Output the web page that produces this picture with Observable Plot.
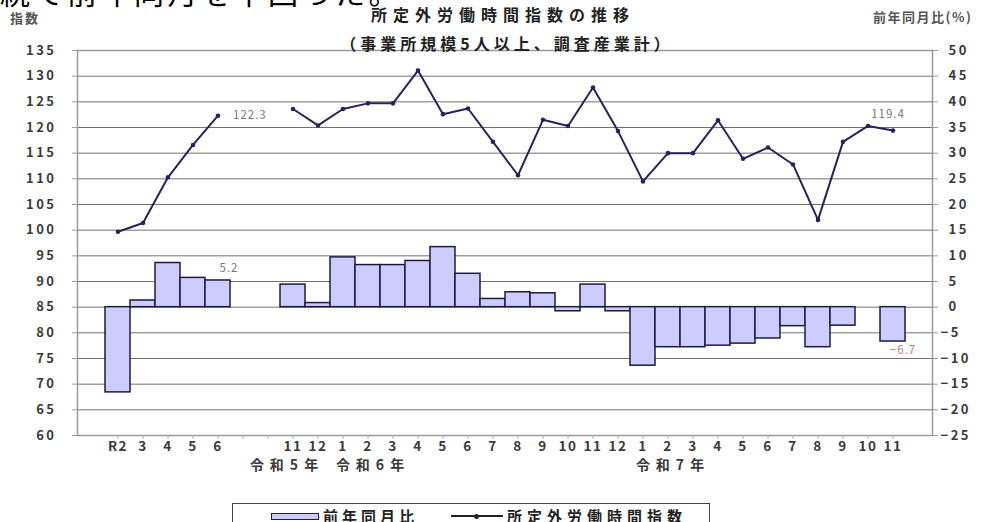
<!DOCTYPE html>
<html>
<head>
<meta charset="utf-8">
<script src="https://cdn.jsdelivr.net/npm/d3@7"></script>
<script src="https://cdn.jsdelivr.net/npm/@observablehq/plot@0.6"></script>
<style>
  body { margin: 0; background: #fff; font-family: 'Noto Sans CJK JP', sans-serif; }
  #wrap { position: relative; width: 997px; height: 522px; overflow: hidden; background: #fff; }
  #chart { position: absolute; left: 0; top: 0; }
  #chart svg { background: transparent; }
  .abs { position: absolute; white-space: nowrap; line-height: 1; }
  #lead { left: 0; top: -24px; font-size: 30px; letter-spacing: 3.5px; color: #000; }
  #title { left: 500px; top: 6px; transform: translateX(-50%); font-size: 16px; letter-spacing: 6px; padding-left: 6px; color: #222; font-weight: 700; }
  #subtitle { left: 505px; top: 35px; transform: translateX(-50%); font-size: 16px; letter-spacing: 4px; padding-left: 4px; color: #222; font-weight: 700; }
  #ylabL { left: 10px; top: 11px; font-size: 13px; letter-spacing: 2px; color: #555; font-weight: 700; }
  #ylabR { left: 873px; top: 10px; font-size: 13px; letter-spacing: 1.5px; color: #555; font-weight: 700; }
  #legend { left: 232px; top: 503px; width: 478px; height: 40px; border: 1.5px solid #444; box-sizing: border-box; }
  .lg { position: absolute; top: 4px; font-size: 15px; letter-spacing: 4px; color: #222; line-height: 1; font-weight: 700; }
  #swBar { position: absolute; left: 38px; top: 9px; width: 46px; height: 5px; background: #ccccff; border: 1.3px solid #222; }
  #swLine { position: absolute; left: 218px; top: 11px; width: 52px; height: 1.5px; background: #222; }
  #swDot { position: absolute; left: 241px; top: 9.5px; width: 5px; height: 5px; border-radius: 50%; background: #222; }
  #chart g[aria-description="y-tick-left"] text,
  #chart g[aria-description="y-tick-right"] text { letter-spacing: 2.5px; }
  #chart g[aria-description="x-tick"] text { letter-spacing: 1.5px; }
  #chart g[aria-description="era"] text { letter-spacing: 6px; }
  #chart g[aria-description="value-label"] text { letter-spacing: 1px; }
</style>
</head>
<body>
<div id="wrap">
  <div id="chart"></div>
  <div id="lead" class="abs">続て前年同月を下回った。</div>
  <div id="title" class="abs">所定外労働時間指数の推移</div>
  <div id="subtitle" class="abs">（事業所規模5人以上、調査産業計）</div>
  <div id="ylabL" class="abs">指数</div>
  <div id="ylabR" class="abs">前年同月比(%)</div>
  <div id="legend" class="abs">
    <div id="swBar"></div>
    <div class="lg" style="left:90px">前年同月比</div>
    <div id="swLine"></div><div id="swDot"></div>
    <div class="lg" style="left:274px;letter-spacing:5px">所定外労働時間指数</div>
  </div>
</div>
<script>
// ---- data ----
const monthLabels = ["R2","3","4","5","6","","","11","12","1","2","3","4","5","6","7","8","9","10","11","12","1","2","3","4","5","6","7","8","9","10","11"];
const indexValues = [99.7,101.4,110.3,116.6,122.3,null,null,123.6,120.4,123.6,124.7,124.7,131.1,122.6,123.7,117.2,110.7,121.5,120.3,127.8,119.3,109.5,115.0,115.0,121.4,113.9,116.1,112.8,102.0,117.2,120.3,119.4];
const yoyValues = [-16.6,1.3,8.6,5.7,5.2,null,null,4.4,0.8,9.7,8.2,8.2,9.0,11.7,6.5,1.6,2.9,2.7,-0.8,4.4,-0.8,-11.4,-7.8,-7.8,-7.5,-7.1,-6.1,-3.7,-7.8,-3.6,null,-6.7];
const leftTicks = [60,65,70,75,80,85,90,95,100,105,110,115,120,125,130,135];
const rightTicks = [-25,-20,-15,-10,-5,0,5,10,15,20,25,30,35,40,45,50];
const eraLabels = ["令和5年","令和6年","令和7年"];
const eraSlots = [7,9,21];

// right axis maps onto left axis by a constant offset
const leftDomain = [leftTicks[0], leftTicks[leftTicks.length-1]];
const rightDomain = [rightTicks[0], rightTicks[rightTicks.length-1]];
const offset = leftDomain[0] - rightDomain[0];
const toLeft = v => v + offset;

const rows = monthLabels.map((label, i) => ({i, label, index: indexValues[i], yoy: yoyValues[i]}));
const barRows = rows.filter(d => d.yoy != null);
const pointRows = rows.filter(d => d.index != null);
const eras = eraLabels.map((label, k) => ({label, slot: eraSlots[k]}));

const lineColor = "#24245e";
const font = "'Noto Sans CJK JP', sans-serif";
const tickFill = "#3a3a3a";

const chart = Plot.plot({
  width: 997,
  height: 480,
  marginLeft: 77,
  marginRight: 65,
  marginTop: 50,
  marginBottom: 45,
  style: {fontFamily: font, fontSize: "13px", color: "#333", background: "transparent"},
  x: {type: "band", domain: rows.map(d => d.i), paddingInner: 0, paddingOuter: 0.5, axis: null},
  y: {domain: leftDomain, axis: null},
  marks: [
    Plot.ruleY(leftTicks.slice(1, -1), {stroke: "#707070", strokeWidth: 1}),
    Plot.frame({stroke: "#9a9a9a", strokeWidth: 1.5}),
    // left axis
    Plot.axisY(leftTicks, {anchor: "left", tickSize: 5, text: null, label: null, stroke: "#9a9a9a"}),
    Plot.text(leftTicks, {y: d => d, text: d => String(d), frameAnchor: "left", dx: -21, textAnchor: "end", fill: tickFill, fontSize: 13, fontWeight: 700, ariaDescription: "y-tick-left"}),
    // right axis (前年同月比)
    Plot.axisY(leftTicks, {anchor: "right", tickSize: 5, text: null, label: null, stroke: "#9a9a9a"}),
    Plot.text(rightTicks.filter(v => v >= 0), {y: d => toLeft(d), text: d => String(d), frameAnchor: "right", dx: 16, textAnchor: "start", fill: tickFill, fontSize: 13, fontWeight: 700, ariaDescription: "y-tick-right"}),
    Plot.text(rightTicks.filter(v => v < 0), {y: d => toLeft(d), text: d => "−" + Math.abs(d), frameAnchor: "right", dx: 8, textAnchor: "start", fill: tickFill, fontSize: 13, fontWeight: 700, ariaDescription: "y-tick-right"}),
    // x axis
    Plot.axisX(rows.map(d => d.i), {tickSize: 4, text: null, label: null, stroke: "#aaa"}),
    Plot.text(rows, {x: "i", text: "label", frameAnchor: "bottom", dy: 15, fill: tickFill, fontSize: 13.5, fontWeight: 700, ariaDescription: "x-tick"}),
    // bars
    Plot.barY(barRows, {x: "i", y1: () => toLeft(0), y2: d => toLeft(d.yoy), fill: "#ccccff", stroke: "#1c1c3c", strokeWidth: 1.5}),
    // line
    Plot.lineY(rows, {x: "i", y: "index", stroke: lineColor, strokeWidth: 2}),
    Plot.dot(pointRows, {x: "i", y: "index", r: 2.3, fill: lineColor}),
    // value labels
    Plot.text([rows[4]], {x: "i", y: "index", text: d => d.index.toFixed(1), dx: 15, textAnchor: "start", fill: "#777", fontSize: 11.5, ariaDescription: "value-label"}),
    Plot.text([rows[31]], {x: "i", y: "index", text: d => d.index.toFixed(1), dx: -5, dy: -16, fill: "#777", fontSize: 11.5, ariaDescription: "value-label"}),
    Plot.text([rows[4]], {x: "i", y: d => toLeft(d.yoy), text: d => d.yoy.toFixed(1), dx: 11, dy: -12, fill: "#777", fontSize: 11.5, ariaDescription: "value-label"}),
    Plot.text([rows[31]], {x: "i", y: d => toLeft(d.yoy), text: d => "−" + Math.abs(d.yoy).toFixed(1), dx: 10, dy: 9, fill: "#c87a7a", fontSize: 11.5, ariaDescription: "value-label"}),
    // era labels
    Plot.text(eras.slice(0, 1), {x: "slot", text: "label", frameAnchor: "bottom", dy: 34, dx: -6, fill: tickFill, fontSize: 14, fontWeight: 700, ariaDescription: "era"}),
    Plot.text(eras.slice(1), {x: "slot", text: "label", frameAnchor: "bottom", dy: 34, dx: 30, fill: tickFill, fontSize: 14, fontWeight: 700, ariaDescription: "era"})
  ]
});
document.getElementById("chart").appendChild(chart);
</script>
</body>
</html>
